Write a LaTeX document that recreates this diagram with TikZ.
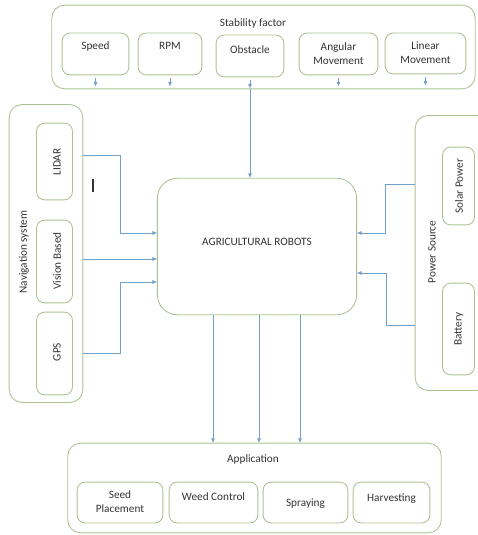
\documentclass[tikz,border=0pt]{standalone}
\usepackage{fontspec}
\setmainfont{Carlito}
\usetikzlibrary{arrows.meta}
\definecolor{grn}{HTML}{AAC292}
\definecolor{blu}{HTML}{72A0CC}
\definecolor{txtc}{HTML}{333333}
\tikzset{
  box/.style={draw=grn, line width=0.85pt, rounded corners=8, inner sep=0pt},
  outer/.style={draw=grn, line width=0.85pt, rounded corners=13, inner sep=0pt},
  txt/.style={text=txtc, font=\fontsize{11.3}{13}\selectfont, align=center, inner sep=0pt},
  arr/.style={draw=blu, line width=0.85pt, -{Triangle[length=4.5pt,width=3.5pt]}},
}
\begin{document}
\begin{tikzpicture}[x=1bp,y=-1bp]
\useasboundingbox (0,0) rectangle (478,535);
% Stability factor
\node[outer, minimum width=425, minimum height=84] (stab) at (263.5,47) {};
\node[txt] (stabt) at (253,24) {Stability factor};
\node[box, minimum width=67, minimum height=42] (speed) at (95.5,54) {};
\node[txt] (speedt) at (95.5,47) {Speed};
\node[box, minimum width=64, minimum height=42] (rpm) at (170,54) {};
\node[txt] (rpmt) at (170,46) {RPM};
\node[box, minimum width=68, minimum height=42] (obst) at (250,56) {};
\node[txt] (obstt) at (250,50) {Obstacle};
\node[box, minimum width=79, minimum height=42] (ang) at (338.5,54) {};
\node[txt] (angt) at (338.5,53.5) {Angular\\[1pt]Movement};
\node[box, minimum width=81, minimum height=41] (lin) at (425.5,53.5) {};
\node[txt] (lint) at (425.5,53) {Linear\\[1pt]Movement};
% Navigation system
\node[outer, minimum width=74, minimum height=299] (nav) at (46,253.5) {};
\node[txt, rotate=90] (navt) at (24,252) {Navigation system};
\node[box, minimum width=36, minimum height=77] (lidar) at (54.5,161.5) {};
\node[txt, rotate=90] (lidart) at (57,162) {LIDAR};
\node[box, minimum width=36, minimum height=83] (vision) at (54.5,261.5) {};
\node[txt, rotate=90] (visiont) at (57,261) {Vision Based};
\node[box, minimum width=36, minimum height=83] (gps) at (54.5,353.5) {};
\node[txt, rotate=90] (gpst) at (57,352) {GPS};
% Power source
\node[outer, minimum width=75, minimum height=276] (pow) at (452.5,253) {};
\node[txt, rotate=90] (powt) at (432,252) {Power Source};
\node[box, minimum width=32, minimum height=78] (solar) at (458.5,186) {};
\node[txt, rotate=90] (solart) at (459,186) {Solar Power};
\node[box, minimum width=32, minimum height=92] (batt) at (458.5,329) {};
\node[txt, rotate=90] (battt) at (459,329) {Battery};
% Center
\node[draw=grn, line width=0.85pt, rounded corners=20, minimum width=200, minimum height=137] (robot) at (257,246.5) {};
\node[txt] (robott) at (257,242) {AGRICULTURAL ROBOTS};
% Application
\node[outer, minimum width=375, minimum height=90] (app) at (254.5,488) {};
\node[txt] (appt) at (253,459) {Application};
\node[box, minimum width=86, minimum height=41] (seed) at (120,502.5) {};
\node[txt] (seedt) at (120,502) {Seed\\[1pt]Placement};
\node[box, minimum width=89, minimum height=41] (weed) at (213.5,502.5) {};
\node[txt] (weedt) at (213.5,497) {Weed Control};
\node[box, minimum width=85, minimum height=41] (spray) at (305.5,502.5) {};
\node[txt] (sprayt) at (305.5,504) {Spraying};
\node[box, minimum width=77, minimum height=41] (harv) at (391.5,502.5) {};
\node[txt] (harvt) at (391.5,499) {Harvesting};
% stray mark
\draw[txtc, line width=1.3pt] (93,179) -- (93,192);
% small stubs under stability items
\foreach \n in {speed,rpm,obst,ang,lin}{
  \draw[arr] ([yshift=-3]\n.south) -- ([yshift=-11]\n.south);
}
\draw[arr] (obst.south |- stab.south) -- (obst.south |- robot.north);
% navigation arrows
\draw[arr] (nav.east |- 0,155) -| (120,233) -- (robot.west |- 0,233);
\draw[arr] (nav.east |- 0,259) -- (robot.west |- 0,259);
\draw[arr] (nav.east |- 0,353) -| (120,282) -- (robot.west |- 0,282);
% power arrows
\draw[arr] (pow.west |- 0,184) -| (385,233) -- (robot.east |- 0,233);
\draw[arr] (pow.west |- 0,325) -| (386,273) -- (robot.east |- 0,273);
% application arrows
\draw[arr] (robot.south -| 213,0) -- (app.north -| 213,0);
\draw[arr] (robot.south -| 259,0) -- (app.north -| 259,0);
\draw[arr] (robot.south -| 300,0) -- (app.north -| 300,0);
\end{tikzpicture}
\end{document}
